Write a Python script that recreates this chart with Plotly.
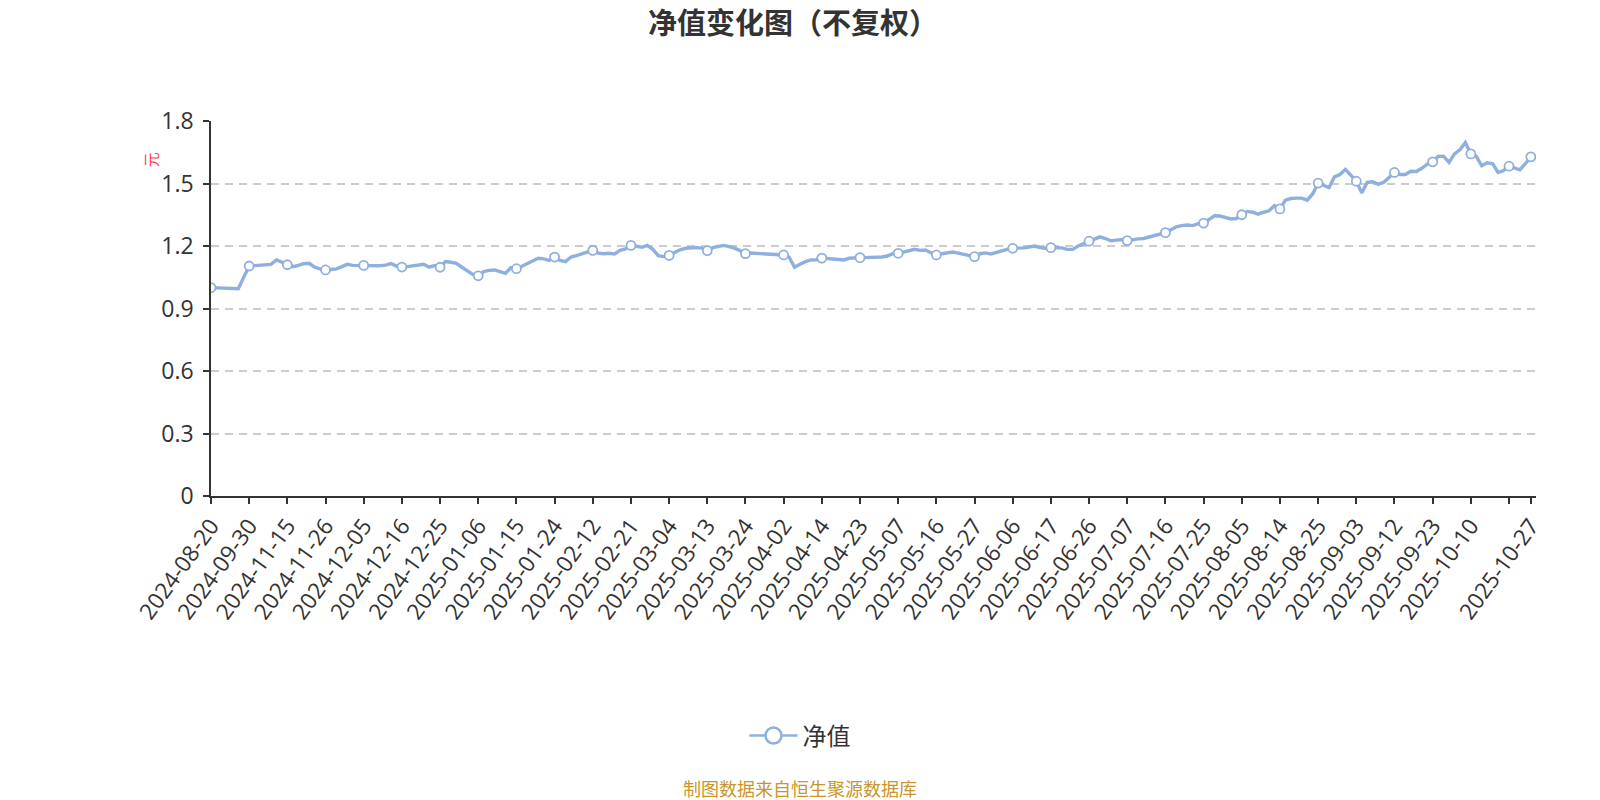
import pandas as pd
import plotly.graph_objects as go

# ---------------- data ----------------
weekly_dates = ["2024-08-20", "2024-08-23", "2024-08-30", "2024-09-06", "2024-09-13",
                "2024-09-20", "2024-09-27", "2024-09-30", "2024-10-11", "2024-10-18",
                "2024-10-25", "2024-11-01", "2024-11-08", "2024-11-14"]
holidays = ["2025-01-01", "2025-01-28", "2025-01-29", "2025-01-30", "2025-01-31",
            "2025-02-03", "2025-02-04", "2025-04-04", "2025-05-01", "2025-05-02",
            "2025-05-05", "2025-06-02", "2025-10-01", "2025-10-02", "2025-10-03",
            "2025-10-06", "2025-10-07", "2025-10-08"]
daily = [d.strftime("%Y-%m-%d") for d in pd.bdate_range("2024-11-15", "2025-10-27")]
dates = weekly_dates + [d for d in daily if d not in holidays]

nav = [
    1.000, 0.999, 0.997, 0.996, 0.995, 0.995, 1.050, 1.104, 1.106, 1.108,
    1.108, 1.112, 1.133, 1.123, 1.110, 1.101, 1.107, 1.115, 1.117, 1.098,
    1.090, 1.085, 1.087, 1.090, 1.101, 1.112, 1.107, 1.106, 1.107, 1.106,
    1.104, 1.105, 1.108, 1.116, 1.104, 1.099, 1.101, 1.104, 1.107, 1.112,
    1.098, 1.106, 1.098, 1.125, 1.122, 1.117, 1.098, 1.081, 1.064, 1.057,
    1.077, 1.083, 1.085, 1.077, 1.069, 1.096, 1.091, 1.103, 1.115, 1.128,
    1.141, 1.138, 1.131, 1.147, 1.131, 1.125, 1.147, 1.154, 1.163, 1.170,
    1.179, 1.166, 1.163, 1.165, 1.162, 1.179, 1.186, 1.203, 1.197, 1.194,
    1.203, 1.184, 1.154, 1.149, 1.155, 1.168, 1.182, 1.189, 1.192, 1.192,
    1.190, 1.178, 1.192, 1.198, 1.203, 1.197, 1.190, 1.178, 1.163, 1.166,
    1.165, 1.163, 1.162, 1.160, 1.157, 1.157, 1.147, 1.098, 1.112, 1.125,
    1.133, 1.134, 1.142, 1.139, 1.138, 1.136, 1.133, 1.141, 1.144, 1.144,
    1.144, 1.144, 1.144, 1.147, 1.152, 1.163, 1.165, 1.171, 1.176, 1.184,
    1.179, 1.181, 1.168, 1.157, 1.163, 1.166, 1.171, 1.166, 1.160, 1.154,
    1.149, 1.163, 1.167, 1.162, 1.170, 1.178, 1.184, 1.189, 1.189, 1.191,
    1.195, 1.200, 1.192, 1.189, 1.192, 1.192, 1.191, 1.184, 1.184, 1.200,
    1.212, 1.223, 1.236, 1.244, 1.236, 1.225, 1.228, 1.231, 1.226, 1.231,
    1.234, 1.236, 1.242, 1.250, 1.258, 1.264, 1.278, 1.292, 1.298, 1.301,
    1.298, 1.307, 1.310, 1.328, 1.345, 1.344, 1.337, 1.330, 1.332, 1.350,
    1.366, 1.362, 1.353, 1.362, 1.369, 1.394, 1.378, 1.420, 1.428, 1.430,
    1.430, 1.420, 1.450, 1.502, 1.490, 1.480, 1.532, 1.543, 1.568, 1.537,
    1.511, 1.455, 1.505, 1.508, 1.497, 1.505, 1.530, 1.553, 1.543, 1.543,
    1.559, 1.558, 1.573, 1.593, 1.604, 1.630, 1.631, 1.601, 1.642, 1.662,
    1.697, 1.642, 1.630, 1.585, 1.600, 1.595, 1.553, 1.562, 1.583, 1.575,
    1.566, 1.595, 1.628,
]

y_ticks = [0, 0.3, 0.6, 0.9, 1.2, 1.5, 1.8]
y_tick_labels = ["0", "0.3", "0.6", "0.9", "1.2", "1.5", "1.8"]

series_name = "净值"
title_text = "净值变化图（不复权）"
unit_text = "元"
source_text = "制图数据来自恒生聚源数据库"

# ---------------- derived ----------------
n = len(nav)
dates = dates[:n]
step = 7
mark_idx = list(range(0, n, step))
if mark_idx[-1] != n - 1:
    mark_idx.append(n - 1)
tick_vals = [dates[i] for i in mark_idx]
tick_text = [dates[i] for i in mark_idx]
if len(tick_text) >= 2 and (n - 1) - mark_idx[-2] < step:
    tick_text[-2] = ""  # hidden (overlaps the last label)

LINE = "#8fb0de"
TXT = "#333333"
FONT = "Open Sans, Noto Sans CJK SC, sans-serif"
CJK = "Noto Sans CJK SC"

W, H = 1600, 800
OFF = 8  # page body margin
# plot area (page pixels)
px0, px1, py0, py1 = 210.8, 1536, 121, 496.5
L = px0 - OFF
R = W - (px1 - OFF)
T = py0 - OFF
B = H - (py1 - OFF)
PW, PH = px1 - px0, py1 - py0


def paper_x(page_x):
    return (page_x - px0) / PW


def paper_y(page_y):
    return (py1 - page_y) / PH


fig = go.Figure()
fig.add_trace(go.Scatter(
    x=dates, y=nav, mode="lines", name=series_name, showlegend=False,
    line=dict(color=LINE, width=3.4), hoverinfo="x+y",
))
fig.add_trace(go.Scatter(
    x=[dates[i] for i in mark_idx], y=[nav[i] for i in mark_idx], mode="markers",
    name=series_name, showlegend=False,
    marker=dict(size=9, color="white", line=dict(color=LINE, width=1.8)),
))
# legend proxy
fig.add_trace(go.Scatter(
    x=[None], y=[None], mode="lines+markers", name=series_name,
    line=dict(color=LINE, width=2.5),
    marker=dict(size=22, color="white", line=dict(color=LINE, width=2.5)),
))

fig.update_layout(
    width=W, height=H,
    paper_bgcolor="white", plot_bgcolor="white",
    margin=dict(l=L, r=R, t=T, b=B, pad=0),
    font=dict(family=FONT, color=TXT, size=20),
    title=dict(text=f"<b>{title_text}</b>", font=dict(size=29, color=TXT, family=CJK),
               x=(793 - OFF) / W, xanchor="center", xref="container",
               y=1 - (24 - OFF) / H, yanchor="middle", yref="container"),
    showlegend=True,
    legend=dict(orientation="h", x=(800 - OFF) / W, xanchor="center", xref="container",
                y=1 - (736 - OFF) / H, yanchor="middle", yref="container",
                font=dict(size=24, color=TXT, family=CJK), itemwidth=48),
)
fig.update_xaxes(
    type="category", range=[0, n - 1 + 0.95],
    tickmode="array", tickvals=tick_vals, ticktext=tick_text, tickangle=-54,
    showline=True, linecolor=TXT, linewidth=1.6,
    ticks="outside", ticklen=6, tickcolor=TXT, tickwidth=1.6,
    showgrid=False, zeroline=False,
    tickfont=dict(size=22.5, color=TXT, family="Open Sans"),
)
fig.update_yaxes(
    range=[0, 1.8], tickmode="array", tickvals=y_ticks, ticktext=y_tick_labels,
    showline=True, linecolor=TXT, linewidth=1.6,
    ticks="outside", ticklen=6, tickcolor=TXT, tickwidth=1.6,
    ticklabelstandoff=5,
    showgrid=True, gridcolor="#cccccc", griddash="8px,6px", gridwidth=1.5,
    zeroline=False,
    tickfont=dict(size=23, color=TXT, family="Open Sans"),
)
fig.add_annotation(text=unit_text, textangle=-90, showarrow=False,
                   xref="paper", yref="paper",
                   x=paper_x(151), y=paper_y(160),
                   xanchor="center", yanchor="middle",
                   font=dict(size=15, color="#ff3b3b", family=CJK))
fig.add_annotation(text=source_text, showarrow=False,
                   xref="paper", yref="paper",
                   x=paper_x(800), y=paper_y(789),
                   xanchor="center", yanchor="middle",
                   font=dict(size=18, color="#c9962b", family=CJK))

fig.write_html("out.html")
